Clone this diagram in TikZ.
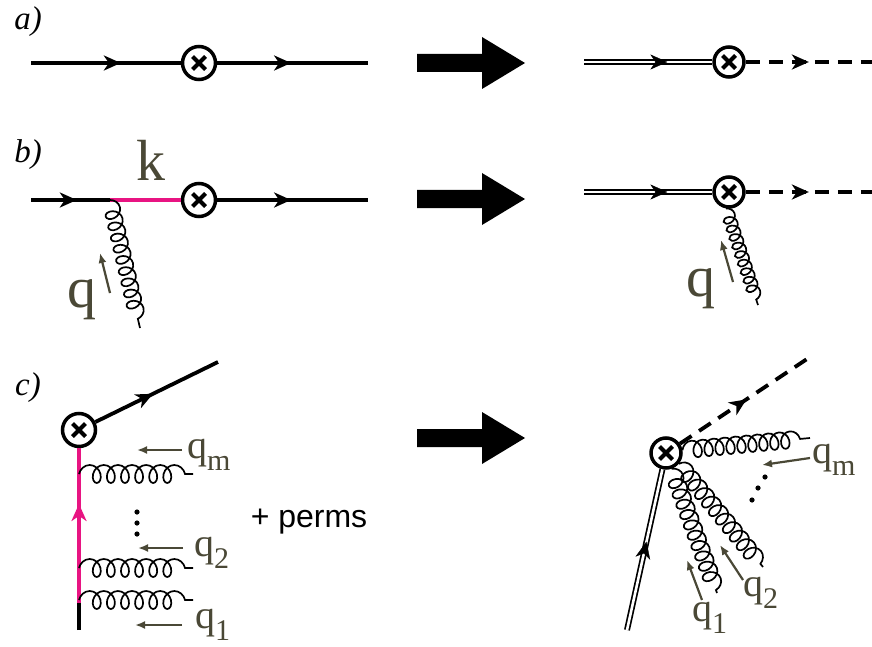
\documentclass[tikz,border=0pt]{standalone}
\usepackage{fontspec}
\setmainfont{Liberation Serif}
\setsansfont{Liberation Sans}
\usetikzlibrary{arrows.meta,decorations.pathmorphing,decorations.markings,positioning}
\definecolor{quarkpink}{RGB}{232,20,130}
\definecolor{labelolive}{RGB}{74,72,54}
\newcommand\qsub[1]{q\raisebox{-.3em}{\fontsize{30}{30}\selectfont #1}}

\begin{document}
\begin{tikzpicture}[x=1pt, y=-1pt,
    fermion/.style={line width=3.8pt},
    dline/.style={double, line width=1.7pt, double distance=2.6pt},
    dashline/.style={line width=3.8pt, dash pattern=on 14pt off 9pt},
    pinkline/.style={line width=3.8pt, draw=quarkpink},
    farrow/.style={postaction={decorate, decoration={markings, mark=at position #1 with {\arrow{Stealth[length=17pt,width=15pt,inset=5pt]}}}}},
    gluon/.style 2 args={decorate, decoration={coil, aspect=0.8, amplitude=#1, segment length=#2}, line width=1.7pt},
    mom/.style={-{Latex[length=10pt,width=8pt]}, line width=2.2pt, draw=labelolive},
    vtx/.style={circle, draw, line width=3.5pt, fill=white, minimum size=#1, inner sep=0pt,
        path picture={\draw[line width=4pt]
            ([shift={(-6.5,-6.5)}]path picture bounding box.center) -- ([shift={(6.5,6.5)}]path picture bounding box.center)
            ([shift={(-6.5,6.5)}]path picture bounding box.center) -- ([shift={(6.5,-6.5)}]path picture bounding box.center);}},
    biglab/.style={text=labelolive, font=\fontsize{58}{58}\selectfont, inner sep=0pt},
    qlab/.style={text=labelolive, font=\fontsize{40}{40}\selectfont, inner sep=0pt, anchor=west},
    partlab/.style={font=\fontsize{33}{33}\selectfont\itshape, inner sep=0pt}]
    \useasboundingbox (0,0) rectangle (872,647);

    % part labels
    \node[partlab] (la) at (28,22) {a)};
    \node[partlab] (lb) at (28,155) {b)};
    \node[partlab] (lc) at (28,388) {c)};

    % big arrows
    \foreach \y in {63,199,438}
        \fill (417,\y-9) -- (482,\y-9) -- (482,\y-26) -- (525,\y) -- (482,\y+26) -- (482,\y+9) -- (417,\y+9) -- cycle;

    % a) left
    \coordinate (a1) at (31,63);
    \coordinate (a2) at (368,63);
    \node[vtx=33pt] (av) at (199,63) {};
    \draw[fermion, farrow=0.6] (a1) -- (av);
    \draw[fermion, farrow=0.49] (av) -- (a2);

    % a) right
    \coordinate (ra1) at (584,62);
    \coordinate (ra2) at (872,62);
    \node[vtx=30pt] (rav) at (729,62) {};
    \draw[dline] (ra1) -- (rav);
    \path[farrow=0.65] (ra1) -- (rav);
    \draw[dashline, farrow=0.5] (rav) -- (ra2);

    % b) left
    \coordinate (b1) at (31,200);
    \coordinate (bk) at (110,200);
    \coordinate (b2) at (368,200);
    \coordinate (bg) at (140,328);
    \node[vtx=33pt] (bv) at (199,200) {};
    \draw[fermion, farrow=0.58] (b1) -- (bk);
    \draw[pinkline] (bk) -- (bv);
    \draw[fermion, farrow=0.49] (bv) -- (b2);
    \draw[gluon={8pt}{11.5pt}] (bk) -- (bg);
    \node[biglab] (klab) at (151,160) {k};
    \node[biglab] (qlb) at (82,300) {q};
    \coordinate (qb1) at (110,293);
    \coordinate (qb2) at (100,253);
    \draw[mom] (qb1) -- (qb2);

    % b) right
    \coordinate (rb1) at (584,192);
    \coordinate (rb2) at (872,192);
    \coordinate (rbg) at (758,305);
    \node[vtx=30pt] (rbv) at (729,192) {};
    \draw[dline] (rb1) -- (rbv);
    \path[farrow=0.65] (rb1) -- (rbv);
    \draw[dashline, farrow=0.5] (rbv) -- (rb2);
    \draw[gluon={6.5pt}{9pt}] (rbv.-100) -- (rbg);
    \node[biglab] (qrb) at (701,289) {q};
    \coordinate (qr1) at (733,282);
    \coordinate (qr2) at (721,240);
    \draw[mom] (qr1) -- (qr2);

    % c) left
    \node[vtx=33pt] (cv) at (79,430) {};
    \coordinate (cend) at (218,362);
    \coordinate (cp) at (79,603);
    \coordinate (cb) at (79,630);
    \draw[fermion, farrow=0.47] (cv) -- (cend);
    \draw[pinkline, farrow=0.64] (cp) -- (cv);
    \draw[fermion] (cb) -- (cp);
    \coordinate (gm1) at (79,474);
    \coordinate (gm2) at (193,474);
    \coordinate (g21) at (79,568);
    \coordinate (g22) at (193,568);
    \coordinate (g11) at (79,600);
    \coordinate (g12) at (193,600);
    \draw[gluon={9pt}{14.1pt}] (gm1) -- (gm2);
    \draw[gluon={9pt}{14.1pt}] (g21) -- (g22);
    \draw[gluon={9pt}{14.1pt}] (g11) -- (g12);
    \coordinate (pm1) at (182,450);
    \coordinate (pm2) at (137,450);
    \coordinate (p21) at (183,548);
    \coordinate (p22) at (138,548);
    \coordinate (p11) at (182,625);
    \coordinate (p12) at (135,625);
    \draw[mom] (pm1) -- (pm2);
    \draw[mom] (p21) -- (p22);
    \draw[mom] (p11) -- (p12);
    \node[qlab] (qm) at (187,455) {\qsub{m}};
    \node[qlab] (q2) at (194,553) {\qsub{2}};
    \node[qlab] (q1) at (195,625) {\qsub{1}};
    \foreach \y in {512,523,534}
        \fill (137,\y) circle (2.6);
    \node[font=\sffamily\fontsize{32}{32}\selectfont, inner sep=0pt] (perms) at (309,522) {+ perms};

    % c) right
    \node[vtx=30pt] (crv) at (666,453) {};
    \coordinate (crd) at (813,355);
    \coordinate (crb) at (627,630);
    \draw[dashline, farrow=0.5] (crv) -- (crd);
    \draw[dline] (crb) -- (crv);
    \path[farrow=0.55] (crb) -- (crv);
    \coordinate (cgm) at (810,438);
    \coordinate (cg1) at (717,593);
    \coordinate (cg2) at (763,567);
    \draw[gluon={8.5pt}{11pt}] (crv.10) -- (cgm);
    \draw[gluon={8.5pt}{11pt}] (crv.-70) -- (cg1);
    \draw[gluon={8.5pt}{11pt}] (crv.-40) -- (cg2);
    \coordinate (rm1) at (810,458);
    \coordinate (rm2) at (762,465);
    \coordinate (r11) at (702,600);
    \coordinate (r12) at (687,560);
    \coordinate (r21) at (743,580);
    \coordinate (r22) at (720,545);
    \draw[mom] (rm1) -- (rm2);
    \draw[mom] (r11) -- (r12);
    \draw[mom] (r21) -- (r22);
    \node[qlab] (rqm) at (812,460) {\qsub{m}};
    \node[qlab] (rq1) at (692,618) {\qsub{1}};
    \node[qlab] (rq2) at (743,593) {\qsub{2}};
    \foreach \x/\y in {765/477,758/488,752/500}
        \fill (\x,\y) circle (2.6);
\end{tikzpicture}
\end{document}
